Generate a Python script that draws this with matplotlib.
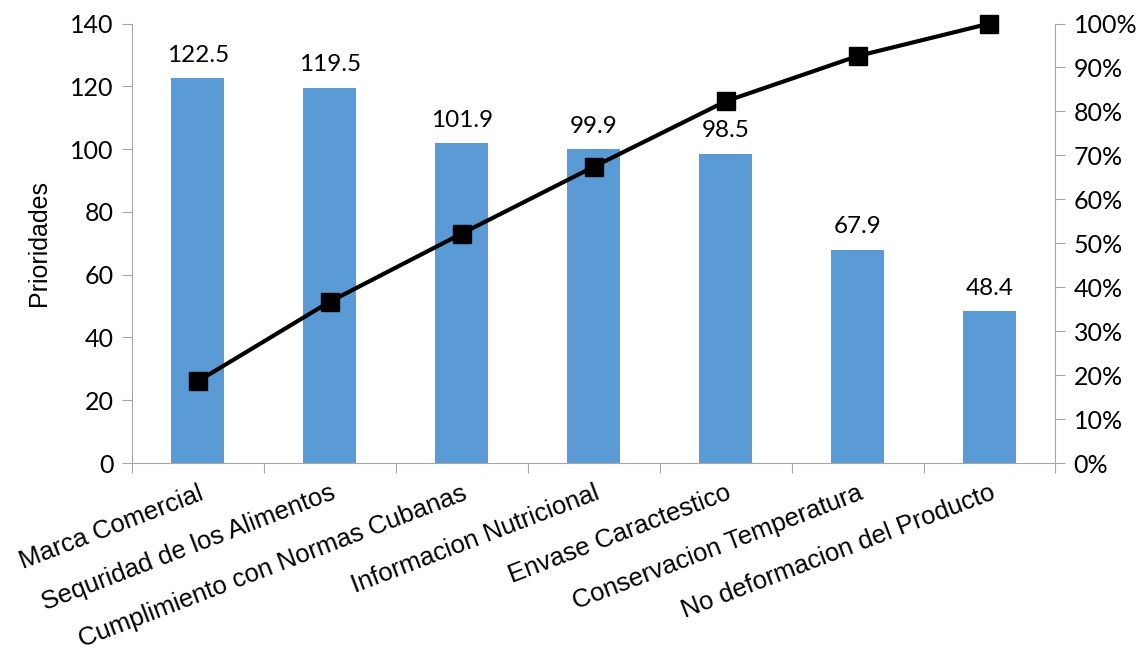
import matplotlib.pyplot as plt
import numpy as np

categories = ['Marca Comercial', 'Sequridad de los Alimentos',
              'Cumplimiento con Normas Cubanas', 'Informacion Nutricional',
              'Envase Caractestico', 'Conservacion Temperatura',
              'No deformacion del Producto']
prioridades = [122.5, 119.5, 101.9, 99.9, 98.5, 67.9, 48.4]
acumulado = [18.6, 36.7, 52.2, 67.4, 82.3, 92.6, 100.0]

bar_color = '#5B9BD5'
axis_gray = '#A6A6A6'
num_font = 'Lato'
txt_font = 'Liberation Sans'

fig = plt.figure(figsize=(11.46, 6.54), dpi=100)
ax = fig.add_axes([0.115, 0.292, 0.806, 0.672])
x = np.arange(len(categories))

ax.bar(x, prioridades, width=0.4, color=bar_color, zorder=2)
for xi, v in zip(x, prioridades):
    ax.text(xi, v + 4, '{:.1f}'.format(v), ha='center', va='bottom',
            fontsize=17.5, family=num_font)

ax.set_xlim(-0.5, len(categories) - 0.5)
ax.set_ylim(0, 140)
ax.set_yticks(range(0, 141, 20))
ax.set_xticks(np.arange(-0.5, len(categories), 1.0))
ax.set_xticklabels([])
ax.set_xticks(x, minor=True)
ax.set_xticklabels(categories, minor=True, rotation=21, ha='right',
                   va='top', rotation_mode='anchor', fontsize=18.5,
                   family=txt_font)
ax.tick_params(axis='x', which='minor', length=0, pad=13)
ax.tick_params(axis='x', which='major', length=7, color=axis_gray)
ax.tick_params(axis='y', length=7, color=axis_gray, labelsize=18, pad=6)
for lab in ax.get_yticklabels():
    lab.set_family(num_font)
ax.set_ylabel('Prioridades', fontsize=18, family=txt_font, labelpad=14)

for side in ['top', 'right']:
    ax.spines[side].set_visible(False)
for side in ['left', 'bottom']:
    ax.spines[side].set_color(axis_gray)

ax2 = ax.twinx()
ax2.plot(x, acumulado, color='black', linewidth=3, marker='s',
         markersize=13, zorder=3, clip_on=False)
ax2.set_ylim(0, 100)
ax2.set_yticks(range(0, 101, 10))
ax2.set_yticklabels(['{}%'.format(t) for t in range(0, 101, 10)])
ax2.tick_params(axis='y', length=7, color=axis_gray, labelsize=18, pad=6)
for lab in ax2.get_yticklabels():
    lab.set_family(num_font)
for side in ['top', 'left', 'bottom']:
    ax2.spines[side].set_visible(False)
ax2.spines['right'].set_color(axis_gray)

fig.savefig('out.png', dpi=100)
